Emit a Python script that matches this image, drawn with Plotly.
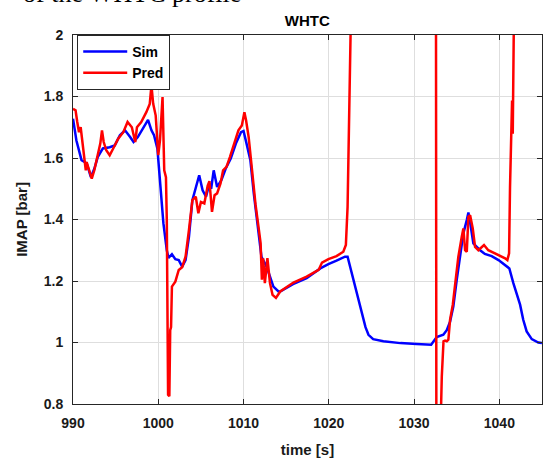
import plotly.graph_objects as go

# ---- data ----
sim_t = [990.0, 990.4, 991.0, 991.6, 992.1, 992.5, 992.9, 993.5, 994.3, 994.9, 995.5, 996.1, 996.7,
         997.1, 997.6, 998.4, 998.8, 999.2, 999.5, 999.9, 1000.2, 1000.6, 1001.0, 1001.2, 1001.6,
         1002.0, 1002.4, 1002.8, 1003.2, 1003.6, 1004.0, 1004.2, 1004.5, 1004.8, 1005.2, 1005.6,
         1006.0, 1006.2, 1006.5, 1006.9, 1007.4, 1007.9, 1008.5, 1009.1, 1009.7, 1010.0, 1010.4,
         1010.8, 1011.2, 1011.6, 1012.1, 1012.7, 1013.5, 1014.1, 1014.3, 1015.8, 1017.4, 1019.0,
         1019.95, 1020.9, 1021.9, 1022.2, 1022.5, 1022.9, 1023.3, 1023.5, 1023.9, 1024.3, 1024.65,
         1025.2, 1026.4, 1028.4, 1030.3, 1032.0, 1032.4, 1032.66, 1033.43, 1033.83, 1034.22,
         1034.6, 1035.0, 1035.4, 1035.78, 1036.18, 1036.37, 1036.65, 1036.95, 1037.35, 1037.74,
         1038.3, 1039.1, 1039.9, 1040.67, 1041.17, 1041.64, 1042.04, 1042.43, 1042.8, 1043.2,
         1043.8, 1044.57, 1045.0]
sim_v = [1.728, 1.657, 1.593, 1.583, 1.538, 1.565, 1.603, 1.631, 1.635, 1.641, 1.674, 1.690, 1.668,
         1.652, 1.668, 1.706, 1.724, 1.690, 1.674, 1.630, 1.528, 1.388, 1.300, 1.275, 1.287,
         1.271, 1.268, 1.247, 1.268, 1.344, 1.463, 1.485, 1.510, 1.544, 1.495, 1.474,
         1.517, 1.500, 1.560, 1.506, 1.528, 1.565, 1.598, 1.647, 1.684, 1.688, 1.641,
         1.593, 1.485, 1.388, 1.279, 1.247, 1.182, 1.166, 1.166, 1.190, 1.209, 1.241,
         1.255, 1.266, 1.279, 1.279, 1.245, 1.210, 1.160, 1.140, 1.090, 1.050, 1.025,
         1.011, 1.004, 0.998, 0.995, 0.993, 1.008, 1.018, 1.025, 1.040, 1.068,
         1.117, 1.204, 1.290, 1.355, 1.398, 1.423, 1.376, 1.322, 1.311, 1.300,
         1.288, 1.281, 1.268, 1.252, 1.241, 1.193, 1.160, 1.123, 1.074, 1.036,
         1.011, 1.000, 0.998]

pred_t = [990.0, 990.3, 990.5, 990.7, 990.9, 991.05, 991.4, 991.5, 991.6, 991.9, 992.2, 992.5,
          992.9, 993.2, 993.4, 993.6, 993.9, 994.3, 994.7, 995.3, 995.9, 996.4, 996.9, 997.3,
          997.5, 998.0, 998.6, 999.0, 999.2, 999.4, 999.7, 999.8, 1000.0, 1000.2, 1000.5,
          1000.7, 1000.9, 1001.0, 1001.15, 1001.3, 1001.4, 1001.5, 1001.6, 1002.0, 1002.4,
          1002.8, 1003.2, 1003.6, 1004.0, 1004.4, 1004.7, 1005.0, 1005.4, 1005.8, 1006.0,
          1006.3, 1006.6, 1006.9, 1007.3, 1007.6, 1008.0, 1008.4, 1009.0, 1009.4, 1009.8,
          1010.1, 1010.3, 1010.6, 1011.0, 1011.4, 1011.8, 1012.0, 1012.15, 1012.3, 1012.5,
          1012.8, 1013.1, 1013.4, 1013.8, 1014.3, 1015.85, 1017.4, 1018.8, 1019.2, 1019.95,
          1020.9, 1021.7, 1022.0, 1022.2, 1022.35, 1022.6, 1022.8, 1027.0, 1032.55, 1032.62,
          1033.0, 1033.25, 1033.45, 1033.63, 1033.83, 1034.02, 1034.22, 1034.54, 1034.8,
          1035.19, 1035.59, 1035.78, 1035.98, 1036.18, 1036.37, 1036.57, 1036.88, 1037.15,
          1037.54, 1037.94, 1038.2, 1038.7, 1039.5, 1040.28, 1040.67, 1040.94, 1041.14,
          1041.25, 1041.37, 1041.49, 1041.57, 1041.64, 1041.72, 1041.9, 1045.0]
pred_v = [1.760, 1.755, 1.717, 1.684, 1.700, 1.663, 1.593, 1.560, 1.587, 1.560, 1.533, 1.560,
          1.609, 1.647, 1.690, 1.652, 1.625, 1.609, 1.630, 1.663, 1.684, 1.717, 1.700, 1.652,
          1.700, 1.717, 1.749, 1.776, 1.836, 1.777, 1.738, 1.690, 1.609, 1.657, 1.798,
          1.560, 1.538, 1.398, 0.830, 0.825, 1.040, 1.050, 1.182, 1.198, 1.236,
          1.245, 1.279, 1.366, 1.463, 1.474, 1.420, 1.457, 1.452, 1.510, 1.525,
          1.425, 1.479, 1.485, 1.517, 1.560, 1.571, 1.603, 1.657, 1.690, 1.706,
          1.749, 1.722, 1.668, 1.560, 1.450, 1.366, 1.323, 1.204, 1.274, 1.193,
          1.274, 1.193, 1.155, 1.145, 1.166, 1.195, 1.214, 1.236, 1.260, 1.271,
          1.281, 1.295, 1.317, 1.441, 1.660, 2.000, 2.400, 3.000, 2.600, 0.500,
          0.600, 0.890, 1.004, 1.006, 1.004, 1.009, 1.074, 1.123, 1.182,
          1.279, 1.344, 1.371, 1.300, 1.295, 1.409, 1.414, 1.371, 1.311,
          1.300, 1.311, 1.317, 1.300, 1.290, 1.279, 1.274, 1.268, 1.290,
          1.506, 1.668, 1.787, 1.679, 1.874, 2.000, 2.600, 3.000]

x_ticks = [990, 1000, 1010, 1020, 1030, 1040]
y_ticks = [0.8, 1.0, 1.2, 1.4, 1.6, 1.8, 2.0]
y_ticklabels = ["0.8", "1", "1.2", "1.4", "1.6", "1.8", "2"]

FONT = "Liberation Sans, Arial, Helvetica, sans-serif"
AX = "#262626"
GRID = "#dedede"

fig = go.Figure()
fig.add_trace(go.Scatter(x=sim_t, y=sim_v, mode="lines", name="Sim",
                         line=dict(color="#0000ff", width=2.5)))
fig.add_trace(go.Scatter(x=pred_t, y=pred_v, mode="lines", name="Pred",
                         line=dict(color="#ff0000", width=2.5)))

axis_common = dict(showline=True, linecolor=AX, linewidth=1, mirror="ticks",
                   ticks="inside", ticklen=5, tickcolor=AX, tickwidth=1,
                   showgrid=True, gridcolor=GRID, gridwidth=1, zeroline=False,
                   automargin=False,
                   tickfont=dict(family=FONT, size=14, color="#1a1a1a", weight="bold"))

fig.update_xaxes(range=[990, 1045], tickvals=x_ticks,
                 title=dict(text="time [s]", font=dict(family=FONT, size=15, color="#1a1a1a", weight="bold"),
                            standoff=15),
                 ticklabelstandoff=6,
                 **axis_common)
fig.update_yaxes(range=[0.8, 2.0], tickvals=y_ticks, ticktext=y_ticklabels,
                 title=dict(text="IMAP [bar]", font=dict(family=FONT, size=15, color="#1a1a1a", weight="bold"),
                            standoff=12),
                 ticklabelstandoff=6,
                 **axis_common)

fig.update_layout(
    width=544, height=458,
    margin=dict(l=73, r=2, t=35, b=54, autoexpand=False),
    paper_bgcolor="white", plot_bgcolor="white",
    title=dict(text="WHTC", x=0.565, xanchor="center", y=1 - 21 / 458, yanchor="middle",
               font=dict(family=FONT, size=15, color="#000000", weight="bold")),
    legend=dict(x=0.009, y=1.0, xanchor="left", yanchor="top",
                bgcolor="white", bordercolor=AX, borderwidth=1,
                font=dict(family=FONT, size=14, color="#000000", weight="bold"),
                itemwidth=44, tracegroupgap=0),
    showlegend=True,
)

fig.add_annotation(text="of the WHTC profile", xref="paper", yref="paper",
                   x=-0.11, y=1 + 41 / 369, xanchor="left", yanchor="middle",
                   showarrow=False,
                   font=dict(family="Liberation Serif, Times New Roman, serif", size=26, color="#000000"))

fig.write_html("out.html", config={"displayModeBar": False},
               post_script="document.body.style.margin='0';document.body.style.overflow='hidden';")
